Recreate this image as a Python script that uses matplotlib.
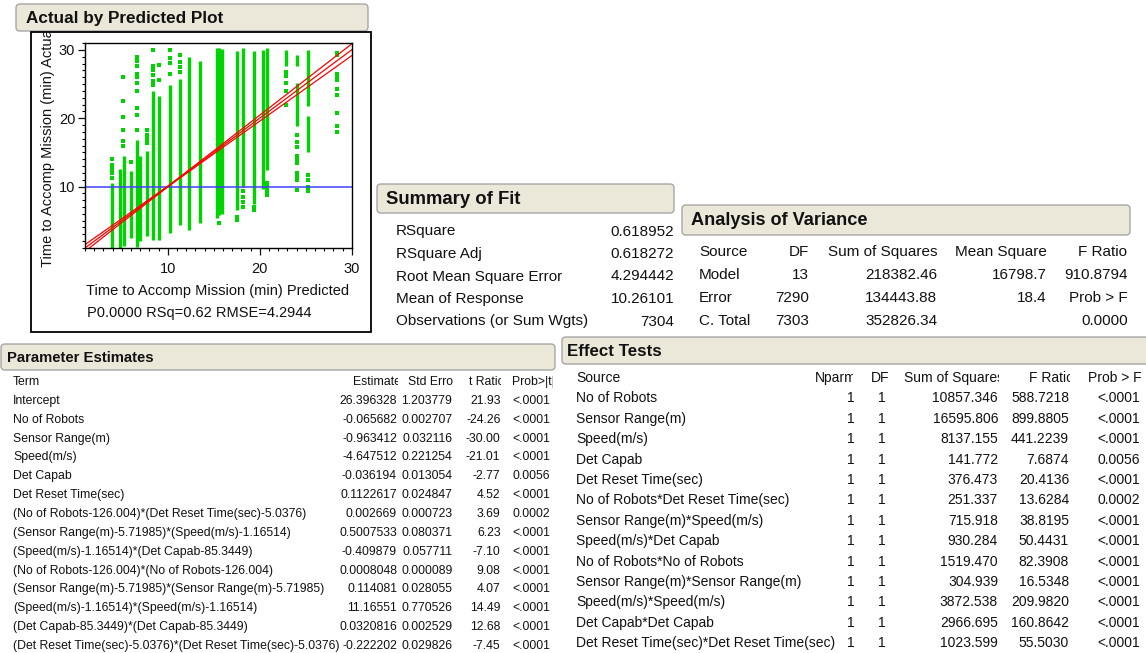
import matplotlib.pyplot as plt
from matplotlib.patches import FancyBboxPatch, Rectangle
from matplotlib.ticker import MultipleLocator

plt.rcParams['font.family'] = ['Liberation Sans', 'DejaVu Sans']

# ---- actual by predicted: dense vertical strips (predicted x, actual range)
seg_x = [3.9, 4.85, 5.25, 6.0, 6.6, 6.95, 7.75, 8.35, 9.08, 10.2, 11.34, 12.27,
         13.5, 15.3, 15.6, 15.9, 17.58, 18.22, 19.34, 20.36, 20.83,
         22.83, 24.0, 24.0, 25.28, 25.28]
seg_lo = [1.0, 1.0, 1.3, 2.4, 1.2, 2.0, 2.7, 2.2, 2.2, 3.2, 4.4, 3.7,
          4.6, 5.4, 5.8, 6.0, 6.6, 10.0, 7.5, 9.6, 12.4,
          27.6, 27.6, 18.8, 21.8, 15.1]
seg_hi = [10.5, 12.5, 14.4, 12.3, 16.8, 14.5, 15.2, 24.0, 23.2, 24.9, 25.8, 29.0,
          28.3, 30.3, 30.3, 30.1, 29.8, 30.3, 29.8, 30.0, 30.3,
          30.0, 29.3, 25.2, 30.0, 20.3]

# scattered single observations
dot_x = [3.9, 3.9, 3.9, 3.9, 3.9,
         5.1, 5.1, 5.1, 5.1, 5.1, 5.1,
         6.0,
         6.7, 6.7, 6.7, 6.7, 6.7, 6.7, 6.7, 6.7, 6.7, 6.7,
         7.75, 7.75, 7.75, 7.75,
         8.35, 8.35, 8.35, 8.35, 8.35, 8.35,
         9.08, 9.08,
         10.2, 10.2, 10.2, 10.2,
         11.34, 11.34, 11.34, 11.34,
         15.6,
         17.58, 17.58,
         18.22, 18.22, 18.22, 18.22,
         19.34, 19.34,
         20.83, 20.83, 20.83, 20.83,
         22.83, 22.83, 22.83, 22.83, 22.83,
         24.0, 24.0, 24.0, 24.0, 24.0, 24.0, 24.0, 24.0, 24.0, 24.0,
         25.28, 25.28, 25.28, 25.28,
         28.37, 28.37, 28.37, 28.37, 28.37, 28.37, 28.37, 28.37, 28.37, 28.37]
dot_y = [11.2, 12.0, 12.5, 13.2, 14.0,
         26.0, 22.5, 20.2, 18.2, 16.6, 16.0,
         13.6,
         28.9, 28.3, 27.7, 26.4, 26.0, 25.2, 24.0, 21.5, 20.5, 18.2,
         16.4, 17.0, 17.6, 18.2,
         24.8, 25.5, 26.3, 27.0, 27.6, 30.0,
         25.6, 27.8,
         26.4, 28.1, 28.8, 30.0,
         26.8, 27.5, 28.2, 29.3,
         4.7,
         5.1, 5.6,
         9.4, 8.5, 7.8, 7.0,
         6.6, 7.0,
         8.8, 9.4, 10.0, 10.5,
         22.0, 24.0, 25.2, 26.2, 26.8,
         17.5, 16.5, 15.8, 14.4, 13.9, 13.5, 12.0, 11.5, 11.0, 9.5,
         9.3, 10.0, 11.0, 11.7,
         29.6, 29.2, 26.4, 26.0, 25.6, 24.2, 23.4, 20.8, 18.8, 18.0]

# fitted line and confidence curves
fit_x = [1, 30]
fit_y = [1, 30]
band_x = [1, 5, 10.26, 15, 20, 25, 30]
band_upper = [1.5, 5.28, 10.31, 15.22, 20.44, 25.65, 30.86]
band_lower = [0.5, 4.72, 10.21, 14.78, 19.56, 24.35, 29.14]
mean_response = 10.0

# ---- summary of fit
fit_labels = ["RSquare", "RSquare Adj", "Root Mean Square Error",
              "Mean of Response", "Observations (or Sum Wgts)"]
fit_values = ["0.618952", "0.618272", "4.294442", "10.26101", "7304"]

# ---- analysis of variance
anova_cols = ["Source", "DF", "Sum of Squares", "Mean Square", "F Ratio"]
anova_source = ["Model", "Error", "C. Total"]
anova_df = ["13", "7290", "7303"]
anova_ss = ["218382.46", "134443.88", "352826.34"]
anova_ms = ["16798.7", "18.4", ""]
anova_f = ["910.8794", "Prob > F", "0.0000"]

# ---- parameter estimates
pe_terms = ["Intercept", "No of Robots", "Sensor Range(m)", "Speed(m/s)",
            "Det Capab", "Det Reset Time(sec)",
            "(No of Robots-126.004)*(Det Reset Time(sec)-5.0376)",
            "(Sensor Range(m)-5.71985)*(Speed(m/s)-1.16514)",
            "(Speed(m/s)-1.16514)*(Det Capab-85.3449)",
            "(No of Robots-126.004)*(No of Robots-126.004)",
            "(Sensor Range(m)-5.71985)*(Sensor Range(m)-5.71985)",
            "(Speed(m/s)-1.16514)*(Speed(m/s)-1.16514)",
            "(Det Capab-85.3449)*(Det Capab-85.3449)",
            "(Det Reset Time(sec)-5.0376)*(Det Reset Time(sec)-5.0376)"]
pe_est = ["26.396328", "-0.065682", "-0.963412", "-4.647512", "-0.036194",
          "0.1122617", "0.002669", "0.5007533", "-0.409879", "0.0008048",
          "0.114081", "11.16551", "0.0320816", "-0.222202"]
pe_se = ["1.203779", "0.002707", "0.032116", "0.221254", "0.013054",
         "0.024847", "0.000723", "0.080371", "0.057711", "0.000089",
         "0.028055", "0.770526", "0.002529", "0.029826"]
pe_t = ["21.93", "-24.26", "-30.00", "-21.01", "-2.77", "4.52", "3.69",
        "6.23", "-7.10", "9.08", "4.07", "14.49", "12.68", "-7.45"]
pe_p = ["<.0001", "<.0001", "<.0001", "<.0001", "0.0056", "<.0001", "0.0002",
        "<.0001", "<.0001", "<.0001", "<.0001", "<.0001", "<.0001", "<.0001"]

# ---- effect tests
et_source = ["No of Robots", "Sensor Range(m)", "Speed(m/s)", "Det Capab",
             "Det Reset Time(sec)", "No of Robots*Det Reset Time(sec)",
             "Sensor Range(m)*Speed(m/s)", "Speed(m/s)*Det Capab",
             "No of Robots*No of Robots", "Sensor Range(m)*Sensor Range(m)",
             "Speed(m/s)*Speed(m/s)", "Det Capab*Det Capab",
             "Det Reset Time(sec)*Det Reset Time(sec)"]
et_nparm = ["1"] * 13
et_df = ["1"] * 13
et_ss = ["10857.346", "16595.806", "8137.155", "141.772", "376.473", "251.337",
         "715.918", "930.284", "1519.470", "304.939", "3872.538", "2966.695",
         "1023.599"]
et_f = ["588.7218", "899.8805", "441.2239", "7.6874", "20.4136", "13.6284",
        "38.8195", "50.4431", "82.3908", "16.5348", "209.9820", "160.8642",
        "55.5030"]
et_p = ["<.0001", "<.0001", "<.0001", "0.0056", "<.0001", "0.0002", "<.0001",
        "<.0001", "<.0001", "<.0001", "<.0001", "<.0001", "<.0001"]

W, H = 1146, 653
TXT = '#111111'
GREEN = '#00d400'

fig = plt.figure(figsize=(W / 100, H / 100), dpi=100)
canvas = fig.add_axes([0, 0, 1, 1])
canvas.set_xlim(0, W)
canvas.set_ylim(H, 0)
canvas.axis('off')


def clip_to(artist, x0, y0, x1, y1):
    r = Rectangle((x0, y0), x1 - x0, y1 - y0, transform=canvas.transData,
                  fill=False, lw=0)
    artist.set_clip_on(True)
    artist.set_clip_path(r)


def header(x0, y0, x1, y1, label, size=11, tx=9):
    box = FancyBboxPatch((x0, y0), x1 - x0, y1 - y0,
                         boxstyle='round,pad=0,rounding_size=4',
                         fc='#ebe8d9', ec='#a6a6a6', lw=1.0)
    canvas.add_patch(box)
    canvas.text(x0 + tx, (y0 + y1) / 2 + 0.5, label, fontsize=size,
                fontweight='bold', ha='left', va='center', color=TXT)


def cell(x, y, s, ha='left', size=11, clip=None):
    t = canvas.text(x, y, s, fontsize=size, ha=ha, va='center', color=TXT)
    if clip is not None:
        clip_to(t, *clip)
    return t


# ---- plot panel
header(16, 4, 368, 31, "Actual by Predicted Plot", size=12.3, tx=10)
canvas.add_patch(Rectangle((31, 32), 340, 300, fill=False, ec='black', lw=1.3))

ax = fig.add_axes([85 / W, 1 - 248 / H, (351.7 - 85) / W, (248 - 43) / H])
ax.vlines(seg_x, seg_lo, seg_hi, color=GREEN, lw=2.4)
ax.scatter(dot_x, dot_y, marker='s', s=5, color=GREEN, linewidths=0)
ax.axhline(mean_response, color='#4040ff', lw=1.1)
ax.plot(fit_x, fit_y, color='red', lw=0.9)
ax.plot(band_x, band_upper, color='red', lw=0.9)
ax.plot(band_x, band_lower, color='red', lw=0.9)
ax.set_xlim(1, 30)
ax.set_ylim(1, 31)
ax.xaxis.set_major_locator(MultipleLocator(10))
ax.yaxis.set_major_locator(MultipleLocator(10))
ax.xaxis.set_minor_locator(MultipleLocator(1))
ax.yaxis.set_minor_locator(MultipleLocator(1))
ax.tick_params(which='major', length=5, width=0.9, labelsize=10.5,
               colors=TXT)
ax.tick_params(which='minor', length=2.5, width=0.8)
ax.tick_params(axis='x', which='major', pad=5)
ax.tick_params(axis='y', which='major', pad=2)
for sp in ax.spines.values():
    sp.set_linewidth(1.0)

ylab = canvas.text(48, 267, "Time to Accomp Mission (min) Actual", rotation=90,
                   rotation_mode='anchor', ha='left', va='center',
                   fontsize=10.5, color=TXT)
clip_to(ylab, 31, 32.7, 371, 332)
canvas.text(218, 291, "Time to Accomp Mission (min) Predicted", ha='center',
            va='center', fontsize=10.5, color=TXT)
canvas.text(87, 312.5, "P0.0000 RSq=0.62 RMSE=4.2944", ha='left',
            va='center', fontsize=10.5, color=TXT)

# ---- summary of fit
header(377, 184, 674, 213, "Summary of Fit", size=13.3)
fit_rows = [231.5, 254, 276.5, 299, 321.5]
for y, lab, val in zip(fit_rows, fit_labels, fit_values):
    cell(396, y, lab)
    cell(674, y, val, ha='right')

# ---- analysis of variance
header(682, 205, 1130, 235, "Analysis of Variance", size=13.1)
anova_rows = [252.3, 275, 298, 320.7]
cell(699, anova_rows[0], anova_cols[0])
for x, lab in zip([809, 937.5, 1046.5, 1127.5], anova_cols[1:]):
    cell(x, anova_rows[0], lab, ha='right')
for i in range(3):
    y = anova_rows[i + 1]
    cell(699, y, anova_source[i])
    cell(809, y, anova_df[i], ha='right')
    cell(937.5, y, anova_ss[i], ha='right')
    cell(1046.5, y, anova_ms[i], ha='right')
    cell(1127.5, y, anova_f[i], ha='right')

# ---- parameter estimates
header(1, 344, 555, 370, "Parameter Estimates", size=10.7, tx=6)
PE = 8.8
pe_y0, pe_dy = 382, 18.86
cell(13, pe_y0, "Term", size=PE)
cell(401, pe_y0, "Estimate", ha='right', size=PE, clip=(330, 372, 397.5, 394))
cell(457, pe_y0, "Std Error", ha='right', size=PE, clip=(398, 372, 452.5, 394))
cell(504, pe_y0, "t Ratio", ha='right', size=PE, clip=(455, 372, 500.5, 394))
cell(512, pe_y0, "Prob>|t|", size=PE, clip=(505, 372, 553, 394))
for i in range(len(pe_terms)):
    y = pe_y0 + pe_dy * (i + 1)
    cell(13, y, pe_terms[i], size=PE)
    cell(397, y, pe_est[i], ha='right', size=PE)
    cell(452.5, y, pe_se[i], ha='right', size=PE)
    cell(500.5, y, pe_t[i], ha='right', size=PE)
    cell(512.5, y, pe_p[i], size=PE)

# ---- effect tests
header(562, 337, 1160, 364, "Effect Tests", size=12.2, tx=5)
ET = 10.0
et_y0, et_dy = 378, 20.4
cell(576, et_y0, "Source", size=ET)
cell(857, et_y0, "Nparm", ha='right', size=ET, clip=(810, 366, 852.5, 392))
cell(889, et_y0, "DF", ha='right', size=ET)
cell(1004, et_y0, "Sum of Squares", ha='right', size=ET, clip=(895, 366, 998.5, 392))
cell(1074, et_y0, "F Ratio", ha='right', size=ET, clip=(1005, 366, 1069.5, 392))
cell(1142, et_y0, "Prob > F", ha='right', size=ET)
for i in range(len(et_source)):
    y = et_y0 + et_dy * (i + 1)
    cell(576, y, et_source[i], size=ET)
    cell(855, y, et_nparm[i], ha='right', size=ET)
    cell(886, y, et_df[i], ha='right', size=ET)
    cell(998, y, et_ss[i], ha='right', size=ET)
    cell(1069, y, et_f[i], ha='right', size=ET)
    cell(1140, y, et_p[i], ha='right', size=ET)

fig.savefig('out.png', dpi=100)
